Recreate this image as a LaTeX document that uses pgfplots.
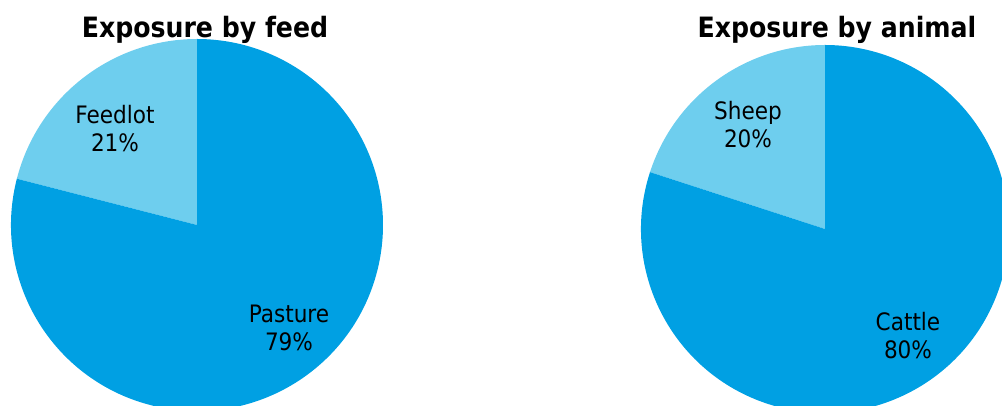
\documentclass[border=0pt]{standalone}
\usepackage{pgfplots}
\pgfplotsset{compat=1.18}
\usepackage{pgfplotstable}
\usepackage{fontspec}
\setmainfont{DejaVu Sans Condensed}
\definecolor{piedark}{RGB}{0,160,227}
\definecolor{pielight}{RGB}{110,206,238}
\pgfplotstableread{
slice share
Feedlot 21
Pasture 79
}\feedtab
\pgfplotstableread{
slice share
Sheep 20
Cattle 80
}\animaltab
\begin{document}
\begin{tikzpicture}
\pgfplotstablegetelem{0}{share}\of\feedtab
\pgfmathsetmacro\feedEnd{90+3.6*\pgfplotsretval}
\pgfplotstablegetelem{0}{share}\of\animaltab
\pgfmathsetmacro\animalEnd{90+3.6*\pgfplotsretval}
\begin{axis}[width=751.5pt,height=304.5pt,scale only axis,
  xmin=0,xmax=1002,ymin=0,ymax=406,hide axis,clip=true]
% left pie: Exposure by feed
\fill[pielight] (axis cs:197,181) -- +(90:139.5pt) arc[start angle=90,end angle=\feedEnd,radius=139.5pt] -- cycle;
\fill[piedark] (axis cs:197,181) -- +(\feedEnd:139.5pt) arc[start angle=\feedEnd,end angle=450,radius=139.5pt] -- cycle;
% right pie: Exposure by animal
\fill[pielight] (axis cs:825,177) -- +(90:138pt) arc[start angle=90,end angle=\animalEnd,radius=138pt] -- cycle;
\fill[piedark] (axis cs:825,177) -- +(\animalEnd:138pt) arc[start angle=\animalEnd,end angle=450,radius=138pt] -- cycle;
% labels
\node[align=center,font=\fontsize{18}{21}\selectfont] at (axis cs:115,277) {Feedlot\\21\%};
\node[align=center,font=\fontsize{18}{21}\selectfont] at (axis cs:289,78.5) {Pasture\\79\%};
\node[align=center,font=\fontsize{18}{21}\selectfont] at (axis cs:748,281) {Sheep\\20\%};
\node[align=center,font=\fontsize{18}{21}\selectfont] at (axis cs:908,70.5) {Cattle\\80\%};
% titles
\node[anchor=base,font=\fontsize{21}{25}\selectfont\bfseries] at (axis cs:205,368) {Exposure by feed};
\node[anchor=base,font=\fontsize{21}{25}\selectfont\bfseries] at (axis cs:837,368) {Exposure by animal};
\end{axis}
\pgfresetboundingbox
\useasboundingbox (current axis.south west) rectangle (current axis.north east);
\end{tikzpicture}
\end{document}
